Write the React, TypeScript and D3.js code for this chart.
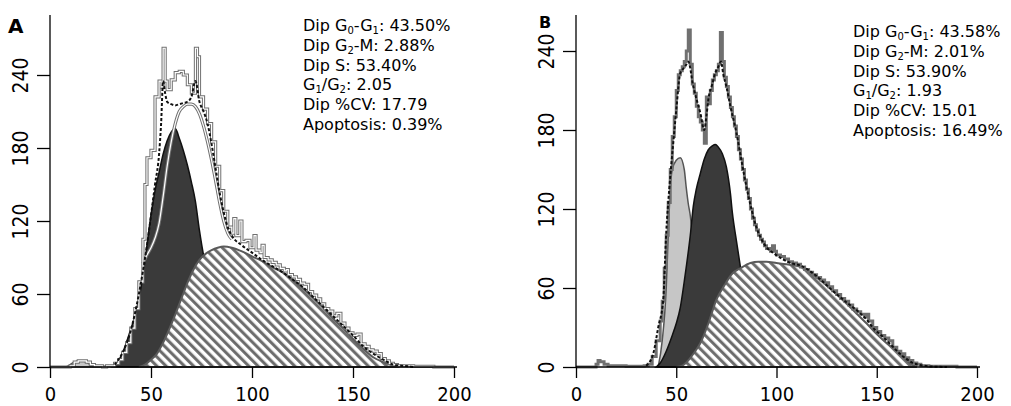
import * as d3 from 'd3';
import React, { useEffect, useRef } from 'react';

type Pt = [number, number];

// ticks
const xTicks = [0, 50, 100, 150, 200];
const yTicks = [0, 60, 120, 180, 240];

// ---- panel A ([channel, count]) ----
const apoA: Pt[] = [[8, 0], [10, 2], [12, 4], [14, 5], [16, 5], [18, 4], [20, 2], [22, 1], [25, 0]];
const g1A: Pt[] = [
  [30, 0], [33, 3], [36, 12], [39, 26], [42, 42], [44, 56], [46, 75], [48, 100], [50, 125], [52, 145],
  [54, 160], [56, 175], [58, 186], [60, 193], [62, 196], [64, 188], [66, 178], [68, 166], [70, 152],
  [72, 136], [74, 112], [76, 92], [78, 78], [80, 65], [84, 45], [88, 28], [92, 15], [96, 7], [100, 3], [105, 0],
];
const sA: Pt[] = [
  [44, 0], [47, 2], [50, 6], [53, 11], [56, 20], [59, 31], [62, 43], [65, 56], [68, 69], [71, 80], [74, 88],
  [77, 93], [80, 96], [83, 98], [86, 99], [90, 98], [95, 95], [100, 91], [105, 87], [110, 82], [115, 78],
  [120, 72], [125, 65], [130, 57], [135, 49], [140, 40], [145, 32], [150, 23], [155, 15], [160, 8],
  [165, 4], [170, 1], [173, 0],
];
const innerA: Pt[] = [
  [46, 85], [48, 92], [50, 98], [52, 106], [54, 118], [56, 140], [58, 165], [60, 185], [62, 200], [64, 210],
  [66, 214], [68, 216], [70, 216], [72, 214], [74, 208], [76, 198], [78, 185], [80, 170], [82, 153],
  [84, 135], [86, 120], [88, 110], [90, 105],
];
const histA: Pt[] = [
  [0, 0], [8, 0], [10, 1], [12, 4], [14, 5], [16, 5], [18, 4], [20, 2], [22, 1], [24, 1], [26, 0], [28, 1],
  [30, 1], [32, 3], [34, 6], [36, 12], [38, 20], [40, 32], [42, 48], [44, 70], [46, 105], [47, 150],
  [48, 172], [50, 178], [52, 222], [54, 235], [55, 230], [56, 262], [57, 235], [58, 228], [60, 236],
  [62, 242], [64, 243], [66, 240], [68, 232], [70, 225], [72, 262], [73, 255], [74, 222], [76, 212],
  [78, 200], [80, 185], [82, 165], [84, 145], [86, 128], [88, 115], [90, 110], [91, 122], [92, 108],
  [94, 120], [95, 103], [97, 104], [99, 98], [101, 108], [102, 96], [104, 94], [105, 100], [106, 90],
  [108, 88], [110, 86], [112, 84], [114, 81], [116, 79], [117, 80], [118, 76], [120, 74], [122, 72],
  [124, 69], [126, 68], [128, 62], [130, 59], [132, 56], [134, 52], [136, 48], [138, 46], [140, 42],
  [142, 44], [144, 36], [146, 32], [148, 28], [150, 26], [152, 27], [154, 19], [156, 17], [158, 14],
  [160, 13], [162, 11], [164, 7], [166, 5], [168, 3], [170, 2], [172, 1], [176, 1], [180, 0.5], [190, 0], [200, 0],
];
const fitA: Pt[] = [
  [32, 2], [36, 12], [40, 30], [44, 60], [48, 100], [52, 150], [54, 175], [55, 200], [56, 235], [57, 225],
  [58, 218], [60, 216], [62, 215], [64, 216], [66, 217], [68, 218], [70, 222], [72, 235], [74, 218],
  [76, 210], [78, 200], [80, 183], [82, 163], [84, 143], [86, 127], [88, 115], [90, 108], [95, 100],
  [100, 94], [105, 88], [110, 83], [115, 78], [120, 72], [125, 66], [130, 58], [135, 50], [140, 42],
  [145, 34], [150, 26], [155, 17], [160, 11], [165, 6], [170, 2], [175, 1], [180, 0],
];

// ---- panel B ----
const apoB: Pt[] = [
  [41, 0], [43, 20], [45, 60], [46, 100], [47, 135], [48, 150], [50, 157], [52, 159], [54, 150], [55, 136],
  [56, 124], [57, 115], [58, 100], [60, 72], [62, 45], [64, 25], [66, 12], [68, 4], [70, 0],
];
const g1B: Pt[] = [
  [40, 0], [42, 3], [45, 12], [48, 24], [50, 33], [52, 45], [54, 65], [55, 76], [57, 100], [58.5, 122],
  [60, 135], [62, 147], [64, 158], [66, 165], [68, 168], [69.5, 169], [71, 167], [73, 162], [75, 152],
  [77, 132], [78, 117], [80, 96], [82, 76], [84, 58], [86, 42], [90, 20], [95, 7], [100, 2], [105, 0],
];
const sB: Pt[] = [
  [50, 0], [53, 1], [56, 5], [59, 11], [62, 18], [66, 33], [70, 51], [74, 62], [78, 71], [82, 75], [87, 79],
  [91, 80], [95, 80], [100, 79], [105, 78], [112, 76], [120, 68], [128, 58], [135, 48], [140, 40.5],
  [145, 33], [150, 25], [155, 18], [161, 11], [165, 5], [168, 1.5], [170, 0],
];
const histB: Pt[] = [
  [0, 0], [8, 0], [10, 2], [11, 5], [12, 4], [14, 2], [16, 1], [20, 1], [25, 0.5], [30, 0.5], [34, 1],
  [36, 2], [38, 8], [40, 20], [42, 35], [43, 50], [44, 75], [45, 100], [46, 125], [47, 150], [48, 175],
  [49, 190], [50, 210], [51, 222], [52, 225], [53, 228], [54, 232], [55, 240], [56, 256], [57, 230],
  [58, 215], [59, 208], [60, 198], [61, 190], [62, 186], [63, 180], [64, 170], [65, 205], [66, 200],
  [67, 210], [68, 218], [69, 222], [70, 225], [71, 230], [72, 254], [73, 232], [74, 220], [75, 213],
  [76, 205], [77, 197], [78, 190], [79, 183], [80, 175], [81, 165], [82, 158], [83, 150], [84, 142],
  [85, 135], [86, 128], [87, 120], [88, 113], [89, 108], [90, 104], [91, 100], [92, 97], [93, 95],
  [94, 92], [95, 90], [96, 90], [97, 88], [98, 92], [99, 88], [100, 85], [102, 84], [104, 82], [106, 80],
  [108, 79], [110, 78], [112, 76], [114, 74], [116, 72], [118, 70], [120, 68], [122, 66], [124, 64],
  [126, 61], [128, 58], [130, 55], [132, 52], [134, 50], [136, 47], [138, 44], [140, 42], [142, 40],
  [144, 38], [145, 40], [146, 35], [148, 30], [150, 27], [152, 24], [154, 22], [156, 20], [158, 15],
  [160, 12], [162, 10], [164, 7], [166, 5], [168, 3], [170, 2], [172, 1], [176, 0.5], [190, 0], [200, 0],
];
const fitB: Pt[] = [
  [35, 1], [38.5, 10], [41, 30], [43.5, 51], [45, 102], [46.5, 135], [48.5, 170], [50, 195], [52, 223],
  [54.4, 228], [56, 232], [58.5, 213], [60, 204], [62, 193], [64, 180], [65, 190], [66, 203], [68, 215],
  [69.4, 223], [71, 228], [72.3, 232], [73.5, 222], [75, 213], [77, 198], [80, 178], [82.5, 157],
  [85, 137], [87.5, 120], [90, 106], [92.5, 97], [95, 91], [99, 86], [103, 82], [107, 79], [112, 77],
  [120, 69], [128, 58], [135, 49], [141.6, 41], [145, 36], [148, 30], [153, 23], [157, 17], [161.6, 10],
  [165, 6], [168, 3], [171.6, 1.5], [176, 0.5], [185, 0],
];

// stats text: [text, subscript?]
type Seg = [string, boolean];
const statsA: Seg[][] = [
  [['Dip G', false], ['0', true], ['-G', false], ['1', true], [': 43.50%', false]],
  [['Dip G', false], ['2', true], ['-M: 2.88%', false]],
  [['Dip S: 53.40%', false]],
  [['G', false], ['1', true], ['/G', false], ['2', true], [': 2.05', false]],
  [['Dip %CV: 17.79', false]],
  [['Apoptosis: 0.39%', false]],
];
const statsB: Seg[][] = [
  [['Dip G', false], ['0', true], ['-G', false], ['1', true], [': 43.58%', false]],
  [['Dip G', false], ['2', true], ['-M: 2.01%', false]],
  [['Dip S: 53.90%', false]],
  [['G', false], ['1', true], ['/G', false], ['2', true], [': 1.93', false]],
  [['Dip %CV: 15.01', false]],
  [['Apoptosis: 16.49%', false]],
];

const FONT = '"DejaVu Sans", Verdana, sans-serif';
const TICK_FONT = '"DejaVu Sans Condensed", "DejaVu Sans", sans-serif';

interface Panel {
  left: number; right: number; y240: number;
  apo: Pt[]; g1: Pt[]; s: Pt[]; inner?: Pt[]; hist: Pt[]; fit: Pt[];
  doubleHist: boolean;
}

const panels: Panel[] = [
  { left: 50, right: 454, y240: 75, apo: apoA, g1: g1A, s: sA, inner: innerA, hist: histA, fit: fitA, doubleHist: true },
  { left: 576, right: 977, y240: 51, apo: apoB, g1: g1B, s: sB, hist: histB, fit: fitB, doubleHist: false },
];

const BASE = 367;
const TOP = 15;

function drawPanel(g: d3.Selection<SVGGElement, unknown, null, undefined>, p: Panel) {
  const x = d3.scaleLinear().domain([0, 200]).range([p.left, p.right]);
  const y = d3.scaleLinear().domain([0, 240]).range([BASE, p.y240]);

  const area = d3.area<Pt>().x(d => x(d[0])).y0(y(0)).y1(d => y(d[1])).curve(d3.curveMonotoneX);
  const smooth = d3.line<Pt>().x(d => x(d[0])).y(d => y(d[1])).curve(d3.curveMonotoneX);
  const step = d3.line<Pt>().x(d => x(d[0])).y(d => y(d[1])).curve(d3.curveStepAfter);

  // apoptosis
  g.append('path').attr('d', area(p.apo)).attr('fill', '#c6c6c6').attr('stroke', '#555').attr('stroke-width', 1.5);
  // G1 peak
  g.append('path').attr('d', area(p.g1)).attr('fill', '#3a3a3a').attr('stroke', '#111').attr('stroke-width', 1.5);
  // S phase
  g.append('path').attr('d', area(p.s)).attr('fill', 'url(#hatch)').attr('stroke', '#5a5a5a').attr('stroke-width', 2);

  if (p.inner) {
    g.append('path').attr('d', smooth(p.inner)).attr('fill', 'none').attr('stroke', '#707070').attr('stroke-width', 3.2);
    g.append('path').attr('d', smooth(p.inner)).attr('fill', 'none').attr('stroke', '#fff').attr('stroke-width', 1.2);
  }

  // raw histogram
  g.append('path').attr('d', step(p.hist)).attr('fill', 'none').attr('stroke', '#707070').attr('stroke-width', p.doubleHist ? 3.2 : 3);
  if (p.doubleHist) {
    g.append('path').attr('d', step(p.hist)).attr('fill', 'none').attr('stroke', '#fff').attr('stroke-width', 1.2);
  }
  // model fit
  g.append('path').attr('d', smooth(p.fit)).attr('fill', 'none').attr('stroke', '#111')
    .attr('stroke-width', 2).attr('stroke-dasharray', '3,2');

  // x axis
  const xa = g.append('g').attr('transform', `translate(0,${BASE})`)
    .call(d3.axisBottom(x).tickValues(xTicks).tickSize(11).tickSizeOuter(0));
  xa.attr('font-size', null).attr('font-family', null);
  xa.select('.domain').remove();
  xa.selectAll('line').attr('stroke', '#000').attr('stroke-width', 1.3);
  xa.selectAll('text').attr('y', 34).attr('dy', 0).attr('fill', '#000')
    .attr('font-family', TICK_FONT).attr('font-size', 20);
  g.append('line').attr('x1', x(0)).attr('x2', x(201.5)).attr('y1', BASE).attr('y2', BASE)
    .attr('stroke', '#000').attr('stroke-width', 1.3);

  // y axis
  const ya = g.append('g').attr('transform', `translate(${p.left},0)`)
    .call(d3.axisLeft(y).tickValues(yTicks).tickSize(13).tickSizeOuter(0));
  ya.attr('font-size', null).attr('font-family', null);
  ya.select('.domain').remove();
  ya.selectAll('line').attr('stroke', '#000').attr('stroke-width', 1.3);
  ya.selectAll('text').attr('x', 0).attr('dy', 0).attr('transform', 'translate(-22.5,0) rotate(-90)')
    .attr('text-anchor', 'middle').attr('fill', '#000')
    .attr('font-family', TICK_FONT).attr('font-size', 21);
  g.append('line').attr('x1', p.left).attr('x2', p.left).attr('y1', TOP).attr('y2', BASE)
    .attr('stroke', '#000').attr('stroke-width', 1.3);
}

function Stats({ lines, x, y0, gap }: { lines: Seg[][]; x: number; y0: number; gap: number }) {
  return (
    <text x={x} y={y0} fontFamily={FONT} fontSize={16} fill="#000">
      {lines.map((segs, i) => (
        <tspan key={i} x={x} y={y0 + i * gap}>
          {segs.map(([t, sub], j) =>
            sub ? (
              <tspan key={j} fontSize={10} dy={3}>{t}</tspan>
            ) : (
              <tspan key={j} dy={j > 0 && segs[j - 1][1] ? -3 : 0}>{t}</tspan>
            ),
          )}
        </tspan>
      ))}
    </text>
  );
}

export default function App() {
  const ref = useRef<SVGGElement>(null);

  useEffect(() => {
    if (!ref.current) return;
    const root = d3.select(ref.current);
    root.selectAll('*').remove();
    panels.forEach(p => drawPanel(root.append('g'), p));
  }, []);

  return (
    <svg width={1011} height={406} style={{ position: 'absolute', left: 0, top: 0, background: '#fff' }}>
      <defs>
        <pattern id="hatch" patternUnits="userSpaceOnUse" width={6.5} height={6.5} patternTransform="rotate(-45)">
          <rect width={6.5} height={6.5} fill="#fff" />
          <line x1={1.6} y1={0} x2={1.6} y2={6.5} stroke="#6a6a6a" strokeWidth={3} />
        </pattern>
      </defs>
      <rect width={1011} height={406} fill="#fff" />
      <g ref={ref} />
      <text x={8} y={33} fontFamily={FONT} fontWeight="bold" fontSize={20}>A</text>
      <text x={539} y={28} fontFamily={FONT} fontWeight="bold" fontSize={16}>B</text>
      <Stats lines={statsA} x={303} y0={31} gap={19.8} />
      <Stats lines={statsB} x={853} y0={37} gap={19.8} />
    </svg>
  );
}
